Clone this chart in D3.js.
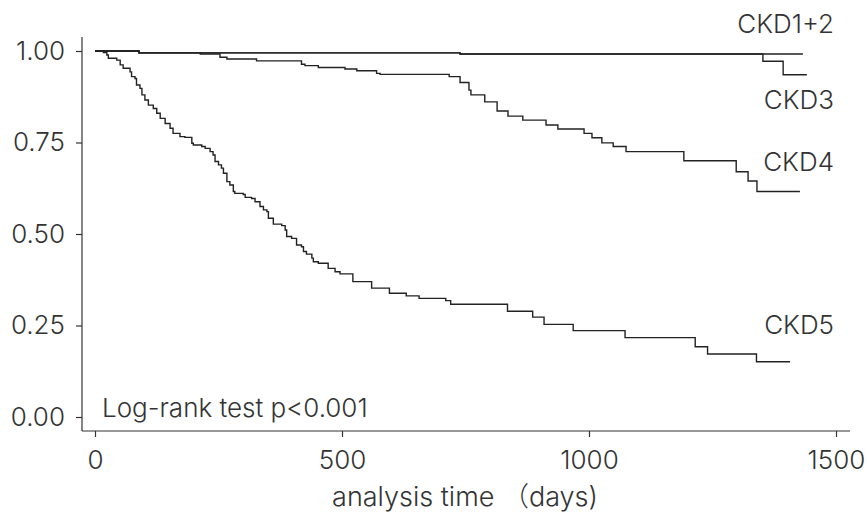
<!DOCTYPE html>
<html>
<head>
<meta charset="utf-8">
<style>
  body { margin: 0; background: #fff; }
  svg text { font-family: Inter, "Noto Sans CJK JP", sans-serif; font-weight: 300; fill: #333; }
  .axis path, .axis line { stroke: #333; stroke-width: 1.2; }
  .km { fill: none; stroke: #222; stroke-width: 1.4; }
</style>
<script src="https://d3js.org/d3.v7.min.js"></script>
</head>
<body>
<script>
// Kaplan-Meier steps: [day, survival]
var ckd12 = [[0, 1], [89, 0.995], [739, 0.992], [1433, 0.992]];
var ckd3 = [[0, 1], [89, 0.995], [739, 0.992], [1352, 0.972], [1393, 0.935], [1441, 0.935]];
var ckd4 = [[0, 1], [89, 0.995], [213, 0.992], [253, 0.983], [267, 0.978], [327, 0.973],
  [418, 0.964], [425, 0.960], [452, 0.955], [506, 0.951], [530, 0.946], [570, 0.939],
  [577, 0.936], [717, 0.930], [739, 0.914], [757, 0.893], [761, 0.880], [789, 0.861],
  [814, 0.836], [836, 0.822], [866, 0.811], [913, 0.798], [937, 0.787], [990, 0.775],
  [1006, 0.763], [1026, 0.749], [1049, 0.739], [1075, 0.725], [1192, 0.700], [1298, 0.670],
  [1322, 0.645], [1340, 0.616], [1427, 0.616]];
var ckd5 = [[0, 1], [17, 0.996], [24, 0.989], [27, 0.980], [44, 0.975], [51, 0.962],
  [57, 0.953], [71, 0.943], [74, 0.930], [81, 0.925], [84, 0.907], [91, 0.898],
  [95, 0.880], [101, 0.866], [108, 0.852], [118, 0.843], [125, 0.830], [132, 0.816],
  [142, 0.802], [152, 0.789], [158, 0.775], [172, 0.766], [182, 0.764], [196, 0.748],
  [199, 0.743], [216, 0.739], [223, 0.734], [233, 0.725], [239, 0.716], [243, 0.698],
  [250, 0.689], [256, 0.680], [260, 0.666], [267, 0.643], [273, 0.634], [280, 0.616],
  [283, 0.611], [300, 0.608], [304, 0.600], [317, 0.597], [324, 0.588], [334, 0.575],
  [341, 0.566], [348, 0.561], [351, 0.543], [361, 0.527], [378, 0.523], [385, 0.511],
  [388, 0.493], [398, 0.488], [408, 0.470], [418, 0.465], [422, 0.452], [428, 0.445],
  [439, 0.434], [442, 0.424], [452, 0.420], [472, 0.406], [486, 0.397], [496, 0.391],
  [522, 0.370], [560, 0.352], [596, 0.338], [630, 0.331], [656, 0.324], [710, 0.318],
  [720, 0.308], [835, 0.289], [886, 0.273], [909, 0.253], [968, 0.236], [1073, 0.217],
  [1215, 0.192], [1240, 0.172], [1339, 0.151], [1407, 0.151]];

var groups = ['CKD1+2', 'CKD3', 'CKD4', 'CKD5'];
var series = [ckd12, ckd3, ckd4, ckd5];
var labelY = [1.074, 0.866, 0.697, 0.251];
var xTicks = [0, 500, 1000, 1500];
var yTicks = [0, 0.25, 0.5, 0.75, 1];

var W = 867, H = 514;
var svg = d3.select('body').append('svg').attr('width', W).attr('height', H);

var x = d3.scaleLinear().domain([0, 1500]).range([95, 836]);
var y = d3.scaleLinear().domain([0, 1]).range([417, 51]);

svg.append('g').attr('class', 'axis')
  .attr('transform', 'translate(0,431)')
  .call(d3.axisBottom(x).tickValues(xTicks).tickSize(6).tickSizeOuter(0).tickPadding(14).tickFormat(d3.format('d')))
  .call(function(g) { g.select('.domain').attr('d', 'M82,0H850'); })
  .selectAll('text').style('font-size', '26px');

svg.append('g').attr('class', 'axis')
  .attr('transform', 'translate(82,0)')
  .call(d3.axisLeft(y).tickValues(yTicks).tickSize(6).tickSizeOuter(0).tickPadding(11).tickFormat(d3.format('.2f')))
  .call(function(g) { g.select('.domain').attr('d', 'M0,37V431'); })
  .selectAll('text').style('font-size', '26px');

var line = d3.line()
  .x(function(d) { return x(d[0]); })
  .y(function(d) { return y(d[1]); })
  .curve(d3.curveStepAfter);

svg.selectAll('path.km')
  .data(series)
  .enter()
  .append('path')
  .attr('class', 'km')
  .attr('d', line);

svg.selectAll('text.lab')
  .data(groups)
  .enter()
  .append('text')
  .attr('class', 'lab')
  .attr('x', 834)
  .attr('y', function(d, i) { return y(labelY[i]); })
  .attr('dy', '0.35em')
  .attr('text-anchor', 'end')
  .style('font-size', '26px')
  .text(function(d) { return d; });

svg.append('text')
  .attr('x', 102)
  .attr('y', y(0.025))
  .attr('dy', '0.35em')
  .style('font-size', '26px')
  .text('Log-rank test p<0.001');

svg.append('text')
  .attr('x', 465)
  .attr('y', 497)
  .attr('dy', '0.35em')
  .attr('text-anchor', 'middle')
  .style('font-size', '27px')
  .style('white-space', 'pre')
  .text('analysis time （days)');
</script>
</body>
</html>
